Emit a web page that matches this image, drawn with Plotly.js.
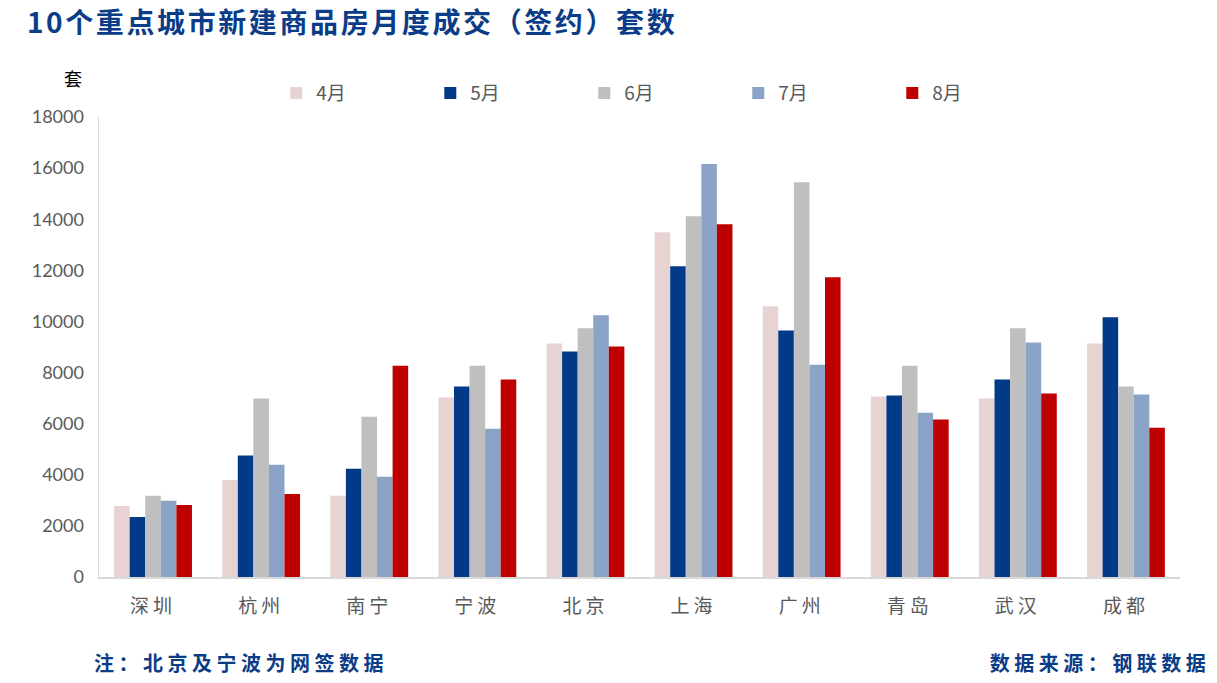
<!DOCTYPE html>
<html>
<head>
<meta charset="utf-8">
<script src="https://cdn.plot.ly/plotly-3.0.1.min.js"></script>
<style>
html,body{margin:0;padding:0;background:#fff;}
#chart{width:1217px;height:683px;}
#chart .gtitle{letter-spacing:2.6px;}
#chart .annotation-text.spaced{letter-spacing:4.5px;}
#chart .xtick text{letter-spacing:4px;}
</style>
</head>
<body>
<div id="chart"></div>
<script>
const cities = ["深圳","杭州","南宁","宁波","北京","上海","广州","青岛","武汉","成都"];
const seriesNames = ["4月","5月","6月","7月","8月"];
const apr = [2780, 3800, 3180, 7020, 9140, 13490, 10590, 7060, 6980, 9140];
const may = [2350, 4750, 4240, 7450, 8820, 12160, 9650, 7100, 7730, 10160];
const jun = [3180, 6980, 6270, 8270, 9730, 14120, 15450, 8270, 9730, 7450];
const jul = [2980, 4390, 3920, 5800, 10240, 16160, 8310, 6430, 9180, 7140];
const aug = [2820, 3250, 8270, 7730, 9020, 13800, 11730, 6160, 7180, 5840];
const yTicks = [0, 2000, 4000, 6000, 8000, 10000, 12000, 14000, 16000, 18000];

const colors = ["#E8D3D3", "#023A87", "#BFBFBF", "#8AA3C7", "#BF0000"];
const values = [apr, may, jun, jul, aug];

const traces = values.map((v, i) => ({
  type: "bar",
  name: seriesNames[i],
  x: cities,
  y: v,
  marker: {color: colors[i], line: {width: 0}},
  hoverinfo: "x+y+name"
}));

const cjk = "'Noto Sans CJK SC', sans-serif";
const layout = {
  width: 1217,
  height: 683,
  margin: {l: 99, r: 37, t: 117, b: 106},
  paper_bgcolor: "#ffffff",
  plot_bgcolor: "#ffffff",
  barmode: "group",
  bargap: 0.28,
  bargroupgap: 0,
  title: {
    text: "<b>10个重点城市新建商品房月度成交（签约）套数</b>",
    font: {family: cjk, size: 28, color: "#0B3C87"},
    x: 27 / 1217, xref: "container", xanchor: "left",
    y: 1 - 23 / 683, yref: "container", yanchor: "middle"
  },
  xaxis: {
    type: "category",
    showline: true, linecolor: "#D9D9D9", linewidth: 1.5,
    ticks: "", showgrid: false, zeroline: false,
    tickfont: {family: cjk, size: 19, color: "#595959"},
    ticklabelstandoff: 12
  },
  yaxis: {
    range: [0, 18000],
    tickvals: yTicks,
    ticktext: yTicks.map(String),
    showline: true, linecolor: "#D9D9D9", linewidth: 1.5,
    ticks: "", showgrid: false, zeroline: false,
    tickfont: {family: "Lato, 'Open Sans', sans-serif", size: 18, color: "#595959"},
    ticklabelstandoff: 10
  },
  showlegend: true,
  legend: {
    orientation: "h",
    x: 0.164, xanchor: "left",
    y: 1.052, yanchor: "middle",
    entrywidth: 109, entrywidthmode: "pixels",
    font: {family: cjk, size: 19, color: "#595959"},
    bgcolor: "rgba(0,0,0,0)",
    traceorder: "normal"
  },
  annotations: [
    {text: "套", xref: "paper", yref: "paper", x: -0.024, y: 1.085, xanchor: "center", yanchor: "middle",
     showarrow: false, font: {family: cjk, size: 18, color: "#000000"}},
    {text: "<b>注：北京及宁波为网签数据</b>", xref: "paper", yref: "paper", x: (119 - 99) / 1081, y: -(662 - 577) / 460,
     xanchor: "left", yanchor: "middle", showarrow: false, font: {family: cjk, size: 20, color: "#0B3C87"}},
    {text: "<b>数据来源：钢联数据</b>", xref: "paper", yref: "paper", x: (1192 - 99) / 1081, y: -(662 - 577) / 460,
     xanchor: "right", yanchor: "middle", showarrow: false, font: {family: cjk, size: 20, color: "#0B3C87"}}
  ]
};

Plotly.newPlot("chart", traces, layout, {displayModeBar: false, staticPlot: true}).then(() => {
  document.querySelectorAll("#chart .annotation-text").forEach((t, i) => {
    if (i > 0) t.classList.add("spaced");
  });
});
</script>
</body>
</html>
